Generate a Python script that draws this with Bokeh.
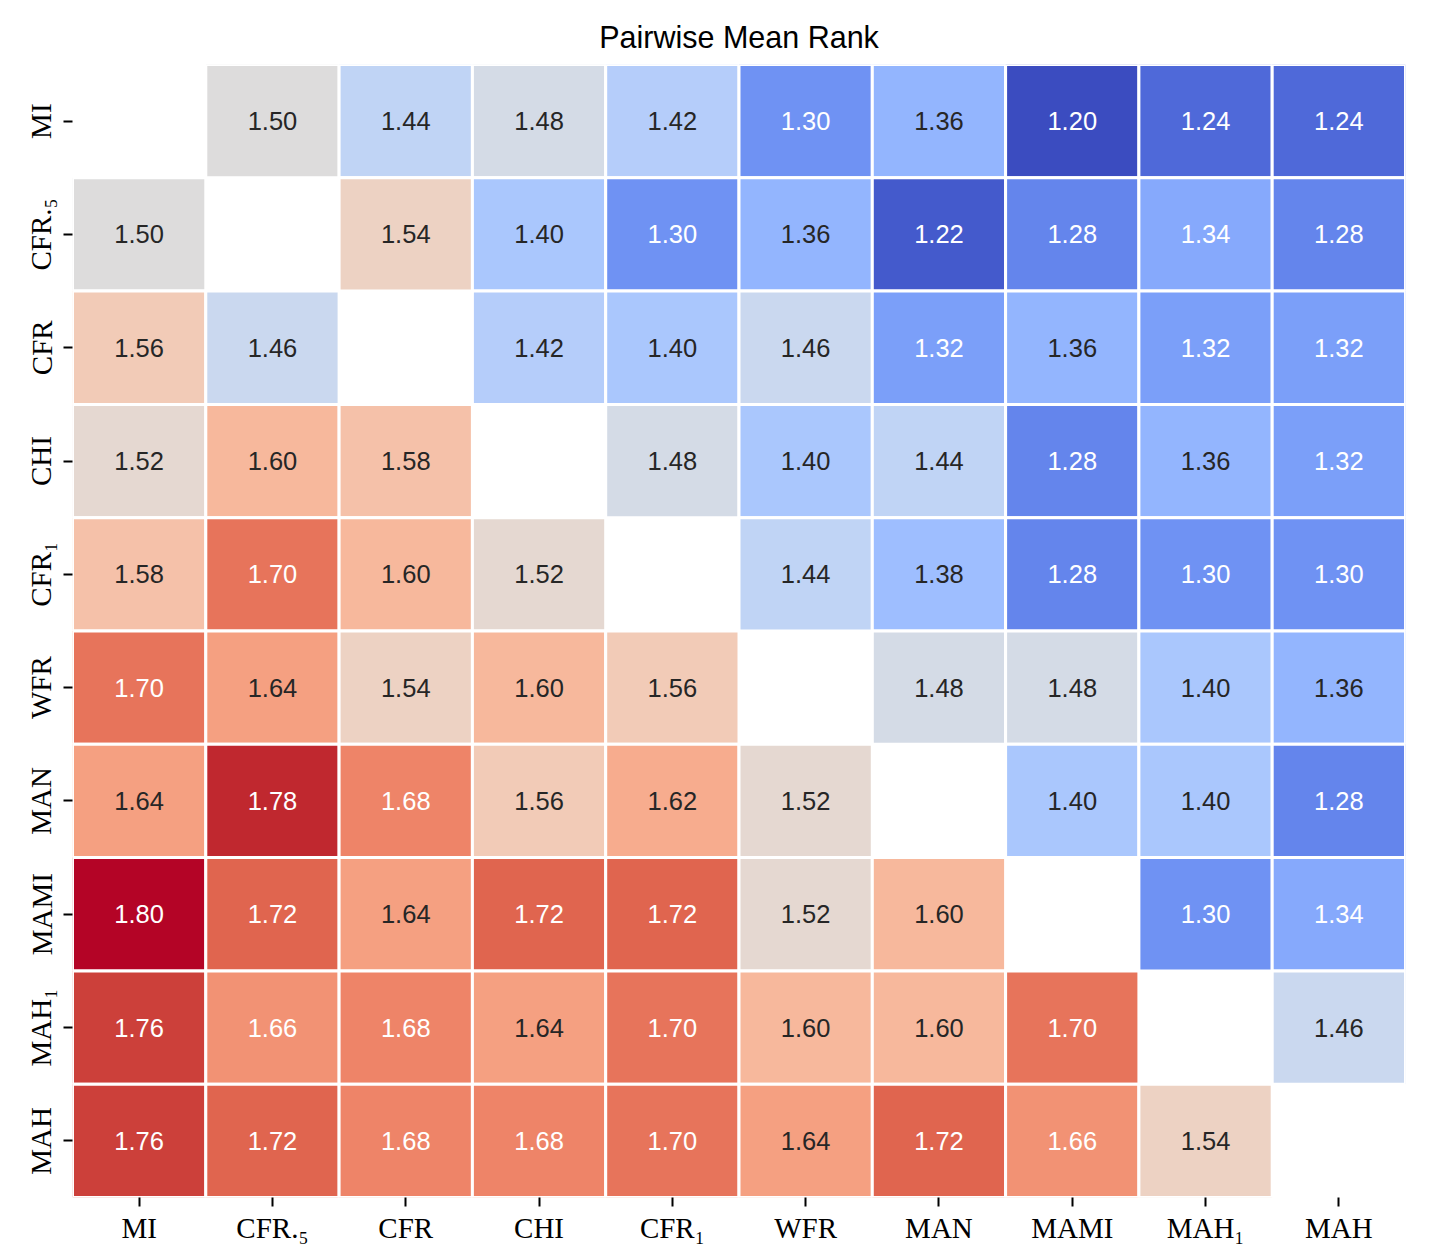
import numpy as np
from bokeh.plotting import figure
from bokeh.models import ColumnDataSource, FactorRange, LinearColorMapper, Title
from bokeh.core.properties import value
from bokeh.embed import file_html
from bokeh.resources import INLINE

labels = ["MI", "CFR.₅", "CFR", "CHI", "CFR₁", "WFR", "MAN", "MAMI", "MAH₁", "MAH"]
NA = None
row_MI   = [NA, 1.50, 1.44, 1.48, 1.42, 1.30, 1.36, 1.20, 1.24, 1.24]
row_CFR5 = [1.50, NA, 1.54, 1.40, 1.30, 1.36, 1.22, 1.28, 1.34, 1.28]
row_CFR  = [1.56, 1.46, NA, 1.42, 1.40, 1.46, 1.32, 1.36, 1.32, 1.32]
row_CHI  = [1.52, 1.60, 1.58, NA, 1.48, 1.40, 1.44, 1.28, 1.36, 1.32]
row_CFR1 = [1.58, 1.70, 1.60, 1.52, NA, 1.44, 1.38, 1.28, 1.30, 1.30]
row_WFR  = [1.70, 1.64, 1.54, 1.60, 1.56, NA, 1.48, 1.48, 1.40, 1.36]
row_MAN  = [1.64, 1.78, 1.68, 1.56, 1.62, 1.52, NA, 1.40, 1.40, 1.28]
row_MAMI = [1.80, 1.72, 1.64, 1.72, 1.72, 1.52, 1.60, NA, 1.30, 1.34]
row_MAH1 = [1.76, 1.66, 1.68, 1.64, 1.70, 1.60, 1.60, 1.70, NA, 1.46]
row_MAH  = [1.76, 1.72, 1.68, 1.68, 1.70, 1.64, 1.72, 1.66, 1.54, NA]
rows = [row_MI, row_CFR5, row_CFR, row_CHI, row_CFR1, row_WFR, row_MAN, row_MAMI, row_MAH1, row_MAH]
VMIN, VMAX = 1.20, 1.80

# matplotlib "coolwarm" control points
cw_pos = np.linspace(0, 1, 33)
cw_r = [0.2298057, 0.26623388, 0.30386891, 0.342804478, 0.38301334, 0.424369608, 0.46666708, 0.509635204,
        0.552953156, 0.596262162, 0.639176211, 0.681291281, 0.722193294, 0.761464949, 0.798691636, 0.833466556,
        0.865395197, 0.897787179, 0.924127593, 0.944468518, 0.958852946, 0.96732803, 0.969954137, 0.966811177,
        0.958003065, 0.943660866, 0.923944917, 0.89904617, 0.869186849, 0.834620542, 0.795631745, 0.752534934,
        0.705673158]
cw_g = [0.298717966, 0.353094838, 0.406535296, 0.458757618, 0.50941904, 0.558148092, 0.604562568, 0.648280772,
        0.688929332, 0.726149107, 0.759599947, 0.788964712, 0.813952739, 0.834302879, 0.849786142, 0.860207984,
        0.86541021, 0.848937047, 0.827384882, 0.800927443, 0.769767752, 0.734132809, 0.694266682, 0.650421156,
        0.602842431, 0.551750968, 0.49730856, 0.439559467, 0.378313092, 0.312874446, 0.24128379, 0.157246067,
        0.01555616]
cw_b = [0.753683153, 0.801466763, 0.84495867, 0.883725899, 0.917387822, 0.945619588, 0.968154911, 0.98478814,
        0.995375608, 0.999836203, 0.998151185, 0.990363227, 0.976574709, 0.956945269, 0.931688648, 0.901068838,
        0.865395561, 0.820880546, 0.774508472, 0.726736146, 0.678007945, 0.628751763, 0.579375448, 0.530263762,
        0.481775914, 0.434243684, 0.387970225, 0.343229596, 0.300267182, 0.259301199, 0.220525627, 0.184115123,
        0.150232812]

def cmap(t):
    return (np.interp(t, cw_pos, cw_r), np.interp(t, cw_pos, cw_g), np.interp(t, cw_pos, cw_b))

palette = []
for t in np.linspace(0, 1, 256):
    r, g, b = cmap(t)
    palette.append("#%02x%02x%02x" % (int(round(r * 255)), int(round(g * 255)), int(round(b * 255))))

def lum(rgb):
    lin = [c / 12.92 if c <= 0.03928 else ((c + 0.055) / 1.055) ** 2.4 for c in rgb]
    return 0.2126 * lin[0] + 0.7152 * lin[1] + 0.0722 * lin[2]

xs, ys, vals, txt, tcol = [], [], [], [], []
for i, row in enumerate(rows):
    for j, v in enumerate(row):
        if v is None:
            continue
        xs.append(labels[j]); ys.append(labels[i]); vals.append(v)
        txt.append("%.2f" % v)
        t = (v - VMIN) / (VMAX - VMIN)
        tcol.append("#262626" if lum(cmap(t)) > 0.43 else "#ffffff")

src = ColumnDataSource(dict(x=xs, y=ys, v=vals, t=txt, c=tcol))
mapper = LinearColorMapper(palette=palette, low=VMIN, high=VMAX)

p = figure(width=1440, height=1252, x_range=FactorRange(*labels), y_range=FactorRange(*labels[::-1]),
           output_backend="svg", toolbar_location=None, min_border_left=72, min_border_right=35,
           min_border_top=64, min_border_bottom=55)
p.title = Title(text="Pairwise Mean Rank", align="center", text_font="Liberation Sans",
                text_font_size="30.5px", text_font_style="normal", text_color="#000000", standoff=21)
p.rect(x="x", y="y", width=1, height=1, source=src, fill_color={"field": "v", "transform": mapper},
       line_color="white", line_width=3)
p.text(x="x", y="y", text="t", source=src, text_align="center", text_baseline="middle",
       text_color="c", text_font=value("Liberation Sans"), text_font_size="25.5px")

for ax in (p.xaxis, p.yaxis):
    ax.axis_line_color = None
    ax.major_tick_in = 0
    ax.major_tick_out = 9
    ax.major_tick_line_width = 2
    ax.major_tick_line_color = "black"
    ax.minor_tick_line_color = None
    ax.major_label_text_font = "Liberation Serif"
    ax.major_label_text_font_size = "29px"
    ax.major_label_text_color = "black"
p.xaxis.major_label_standoff = 5
p.yaxis.major_label_standoff = 6
p.yaxis.major_label_orientation = "vertical"
p.xgrid.grid_line_color = None
p.ygrid.grid_line_color = None
p.outline_line_color = None
p.background_fill_color = "white"
p.border_fill_color = "white"

open("out.html", "w").write(file_html(p, INLINE))
